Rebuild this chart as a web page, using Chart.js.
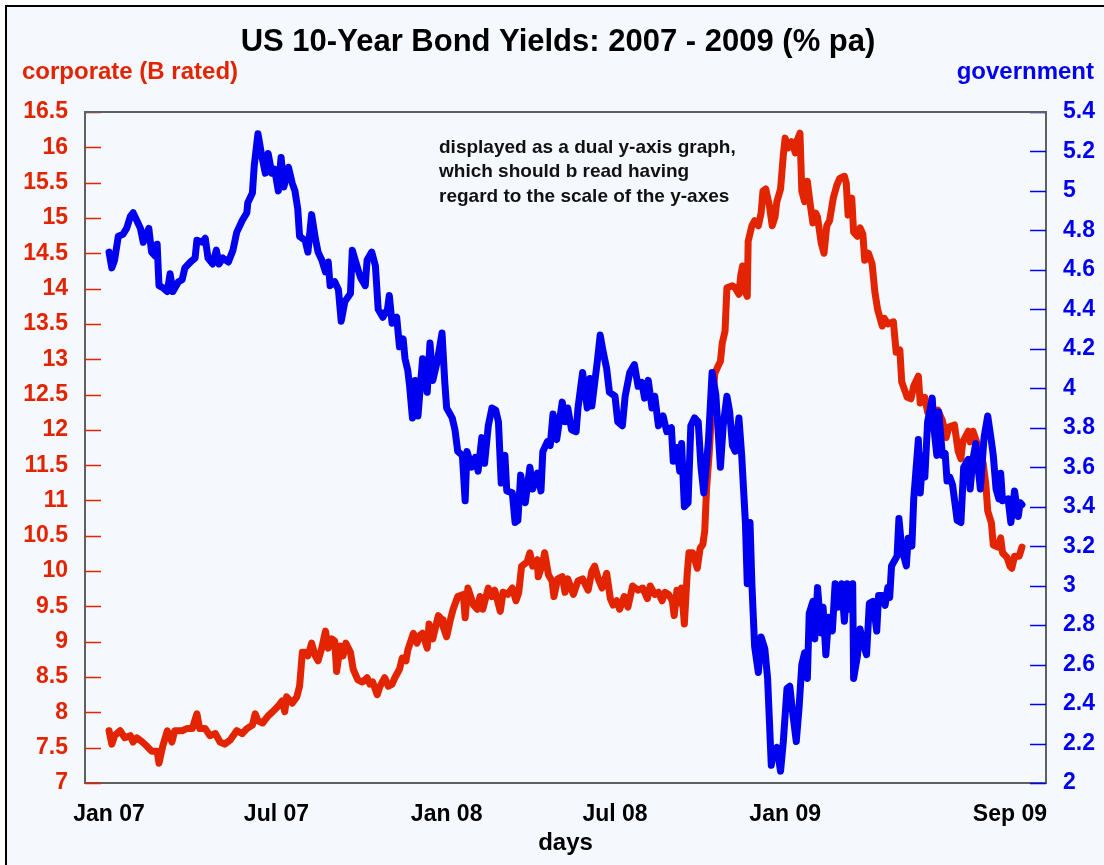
<!DOCTYPE html>
<html lang="en">
<head>
<meta charset="UTF-8">
<title>US 10-Year Bond Yields: 2007 - 2009</title>
<script src="https://cdn.jsdelivr.net/npm/chart.js"></script>
<style>
    html, body { margin: 0; padding: 0; background: #fff; }
    .chart-box { width: 1104px; height: 865px; }
</style>
</head>
<body>
<div class="chart-box"><canvas id="bondChart"></canvas></div>
<script>
// x values are days counted from 1 Jan 2007
const tickDays = [0, 181, 365, 547, 731, 974];
const tickLabels = ['Jan 07', 'Jul 07', 'Jan 08', 'Jul 08', 'Jan 09', 'Sep 09'];

// corporate (B rated), left axis
const corpDays = [
    0, 3, 6, 12, 17, 23, 26, 30, 36, 41,
    46, 52, 54, 58, 63, 68, 71, 79, 84, 90,
    95, 98, 104, 109, 115, 120, 125, 131, 138, 144,
    149, 155, 158, 161, 166, 172, 177, 183, 187, 190,
    192, 198, 203, 206, 209, 212, 215, 219, 223, 226,
    230, 234, 237, 241, 244, 246, 250, 253, 256, 261,
    264, 269, 274, 279, 282, 285, 290, 293, 298, 302,
    306, 309, 314, 317, 321, 323, 329, 333, 336, 339,
    344, 346, 350, 356, 360, 361, 365, 369, 372, 377,
    383, 385, 388, 394, 398, 401, 404, 410, 414, 417,
    423, 426, 431, 436, 440, 443, 446, 452, 455, 458,
    463, 464, 468, 471, 475, 479, 481, 485, 490, 493,
    496, 502, 507, 512, 518, 522, 525, 529, 533, 538,
    542, 545, 549, 552, 557, 561, 566, 572, 577, 582,
    585, 590, 594, 598, 601, 605, 609, 611, 614, 617,
    619, 622, 625, 627, 631, 636, 639, 642, 644, 646,
    649, 652, 655, 658, 661, 663, 666, 668, 674, 677,
    681, 683, 685, 688, 690, 691, 695, 698, 702, 705,
    707, 710, 714, 717, 720, 722, 726, 729, 731, 734,
    738, 742, 744, 747, 749, 752, 755, 758, 761, 764,
    766, 770, 773, 776, 779, 783, 787, 790, 795, 797,
    799, 803, 805, 809, 812, 815, 817, 821, 825, 828,
    831, 836, 838, 842, 848, 851, 855, 857, 863, 867,
    870, 875, 877, 882, 885, 891, 896, 901, 905, 908,
    914, 918, 921, 923, 929, 931, 934, 938, 942, 945,
    948, 950, 954, 956, 961, 964, 966, 971, 974, 976,
    979, 984, 987
];
const corpYield = [
    7.74, 7.55, 7.67, 7.74, 7.64, 7.67, 7.58, 7.64, 7.58, 7.52,
    7.45, 7.45, 7.28, 7.52, 7.74, 7.58, 7.74, 7.74, 7.77, 7.77,
    7.98, 7.77, 7.77, 7.67, 7.70, 7.58, 7.55, 7.61, 7.74, 7.70,
    7.77, 7.82, 7.98, 7.88, 7.85, 7.95, 8.01, 8.09, 8.16, 8.01,
    8.22, 8.13, 8.22, 8.37, 8.85, 8.85, 8.80, 8.98, 8.80, 8.73,
    8.91, 9.15, 8.91, 9.04, 9.01, 8.58, 8.94, 8.80, 8.98, 8.85,
    8.61, 8.46, 8.43, 8.49, 8.40, 8.43, 8.25, 8.37, 8.49, 8.37,
    8.40, 8.49, 8.61, 8.77, 8.73, 8.88, 9.12, 8.98, 9.09, 9.12,
    8.91, 9.25, 9.04, 9.37, 9.31, 9.22, 9.07, 9.31, 9.46, 9.64,
    9.67, 9.34, 9.76, 9.52, 9.46, 9.64, 9.46, 9.76, 9.64, 9.73,
    9.43, 9.70, 9.67, 9.76, 9.58, 9.70, 10.07, 10.13, 10.26, 10.07,
    10.16, 9.92, 10.07, 10.26, 9.95, 9.86, 9.64, 9.89, 9.92, 9.70,
    9.89, 9.67, 9.86, 9.89, 9.73, 10.00, 10.07, 9.89, 9.76, 9.97,
    9.61, 9.52, 9.58, 9.46, 9.64, 9.49, 9.79, 9.73, 9.76, 9.61,
    9.79, 9.67, 9.70, 9.58, 9.70, 9.67, 9.58, 9.37, 9.73, 9.55,
    9.76, 9.25, 9.95, 10.26, 10.26, 10.04, 10.32, 10.38, 10.56, 11.16,
    11.70, 12.38, 12.80, 12.89, 12.97, 13.23, 13.40, 14.01, 14.04, 14.01,
    13.92, 14.19, 14.32, 13.95, 13.89, 14.67, 14.89, 14.96, 14.89, 15.07,
    15.38, 15.41, 15.17, 14.89, 15.01, 15.23, 15.41, 15.89, 16.13, 15.99,
    16.08, 15.92, 16.10, 16.20, 15.38, 15.23, 15.52, 15.20, 14.93, 15.07,
    15.01, 14.64, 14.50, 14.89, 14.96, 15.28, 15.47, 15.56, 15.59, 15.50,
    15.04, 15.28, 14.80, 14.74, 14.86, 14.77, 14.40, 14.50, 14.35, 13.95,
    13.70, 13.47, 13.58, 13.50, 13.53, 13.10, 13.13, 12.68, 12.46, 12.44,
    12.62, 12.76, 12.38, 12.46, 12.25, 12.13, 12.28, 12.13, 11.89, 12.04,
    12.07, 11.70, 11.59, 11.83, 11.98, 11.83, 11.98, 11.83, 11.53, 11.53,
    11.22, 10.85, 10.68, 10.37, 10.34, 10.47, 10.26, 10.19, 10.07, 10.04,
    10.21, 10.21, 10.34
];

// government, right axis
const govDays = [
    0, 3, 6, 10, 15, 19, 23, 26, 30, 34,
    37, 41, 43, 46, 50, 52, 54, 58, 63, 66,
    69, 75, 79, 82, 88, 93, 95, 101, 104, 107,
    112, 116, 119, 123, 129, 134, 138, 144, 149, 150,
    155, 157, 161, 165, 169, 172, 176, 179, 183, 186,
    189, 194, 198, 201, 204, 206, 212, 215, 219, 223,
    226, 230, 234, 237, 239, 244, 248, 251, 255, 261,
    263, 268, 272, 277, 279, 284, 288, 291, 296, 301,
    303, 306, 311, 314, 318, 320, 323, 325, 328, 331,
    334, 339, 344, 347, 350, 355, 360, 363, 365, 371,
    374, 377, 382, 385, 387, 392, 396, 399, 403, 406,
    410, 414, 418, 421, 424, 428, 430, 436, 439, 442,
    445, 450, 455, 458, 463, 467, 469, 474, 477, 480,
    484, 490, 493, 496, 500, 505, 507, 512, 517, 520,
    522, 528, 531, 534, 538, 541, 547, 550, 555, 558,
    563, 568, 572, 576, 579, 583, 587, 590, 594, 599,
    603, 608, 610, 614, 617, 619, 622, 626, 629, 633,
    637, 640, 643, 648, 652, 656, 661, 664, 668, 671,
    674, 677, 681, 684, 688, 690, 693, 695, 698, 702,
    705, 709, 712, 716, 718, 722, 726, 729, 733, 736,
    739, 743, 746, 749, 752, 755, 757, 761, 763, 766,
    770, 772, 775, 778, 782, 785, 788, 792, 795, 798,
    801, 804, 805, 809, 812, 815, 819, 822, 826, 830,
    832, 836, 839, 842, 844, 846, 852, 854, 857, 862,
    864, 868, 870, 875, 877, 880, 882, 885, 890, 892,
    895, 897, 901, 904, 906, 909, 912, 917, 921, 924,
    929, 931, 934, 937, 942, 946, 950, 954, 956, 959,
    962, 964, 966, 972, 975, 979, 983, 985, 987
];
const govYield = [
    4.69, 4.61, 4.65, 4.77, 4.78, 4.81, 4.87, 4.89, 4.85, 4.81,
    4.74, 4.79, 4.81, 4.69, 4.67, 4.73, 4.52, 4.51, 4.49, 4.58,
    4.49, 4.54, 4.55, 4.61, 4.64, 4.66, 4.75, 4.74, 4.76, 4.66,
    4.63, 4.70, 4.63, 4.66, 4.64, 4.70, 4.79, 4.85, 4.89, 4.94,
    4.99, 5.13, 5.29, 5.18, 5.09, 5.19, 5.09, 5.11, 5.00, 5.17,
    5.02, 5.12, 5.04, 5.00, 4.91, 4.77, 4.75, 4.69, 4.88, 4.76,
    4.69, 4.65, 4.59, 4.64, 4.52, 4.54, 4.50, 4.34, 4.44, 4.48,
    4.70, 4.62, 4.56, 4.52, 4.65, 4.69, 4.62, 4.40, 4.36, 4.40,
    4.47, 4.33, 4.36, 4.21, 4.25, 4.15, 4.09, 4.01, 3.85, 4.04,
    3.86, 4.15, 3.98, 4.23, 4.04, 4.14, 4.28, 4.03, 3.90, 3.85,
    3.79, 3.68, 3.66, 3.43, 3.68, 3.60, 3.65, 3.58, 3.75, 3.62,
    3.81, 3.90, 3.89, 3.83, 3.52, 3.66, 3.48, 3.47, 3.32, 3.33,
    3.56, 3.42, 3.60, 3.49, 3.57, 3.48, 3.68, 3.73, 3.71, 3.87,
    3.74, 3.93, 3.83, 3.90, 3.79, 3.78, 3.90, 4.08, 3.90, 4.05,
    3.91, 4.14, 4.27, 4.19, 4.10, 3.98, 3.96, 3.83, 3.81, 3.96,
    4.08, 4.12, 4.01, 4.03, 3.95, 4.04, 3.90, 3.96, 3.81, 3.86,
    3.78, 3.80, 3.63, 3.70, 3.58, 3.72, 3.40, 3.42, 3.81, 3.85,
    3.83, 3.60, 3.47, 3.73, 4.08, 3.97, 3.60, 3.81, 3.96, 3.88,
    3.71, 3.68, 3.85, 3.66, 3.32, 3.01, 3.32, 3.01, 2.69, 2.56,
    2.74, 2.68, 2.53, 2.09, 2.16, 2.18, 2.06, 2.21, 2.48, 2.49,
    2.36, 2.21, 2.38, 2.60, 2.66, 2.53, 2.86, 2.92, 2.73, 2.99,
    2.76, 2.89, 2.65, 2.84, 2.77, 3.01, 2.89, 3.01, 2.82, 3.01,
    2.88, 3.01, 2.53, 2.64, 2.78, 2.71, 2.65, 2.91, 2.92, 2.77,
    2.95, 2.95, 2.90, 2.99, 2.94, 3.10, 3.15, 3.34, 3.19, 3.10,
    3.24, 3.20, 3.44, 3.74, 3.47, 3.66, 3.55, 3.83, 3.95, 3.79,
    3.66, 3.88, 3.66, 3.67, 3.53, 3.55, 3.51, 3.33, 3.32, 3.60,
    3.64, 3.49, 3.64, 3.72, 3.49, 3.75, 3.86, 3.73, 3.66, 3.49,
    3.44, 3.57, 3.43, 3.44, 3.32, 3.48, 3.35, 3.42, 3.41
];

const RED = '#e22400';
const BLUE = '#0000f0';
const AXIS = '#606060';
const BG = '#f5f8fd';
const FONT = "'Liberation Sans', Arial, sans-serif";

Chart.defaults.font.family = FONT;

// background frame, inside tick marks, titles and the note
const decorations = {
    id: 'decorations',
    beforeDraw(chart) {
        const ctx = chart.ctx;
        ctx.save();
        ctx.fillStyle = '#ffffff';
        ctx.fillRect(0, 0, chart.width, chart.height);
        ctx.fillStyle = BG;
        ctx.fillRect(6, 6, chart.width - 6, chart.height - 6);
        ctx.strokeStyle = '#000000';
        ctx.lineWidth = 2;
        ctx.beginPath();
        ctx.moveTo(6, chart.height);
        ctx.lineTo(6, 6);
        ctx.lineTo(chart.width, 6);
        ctx.stroke();
        ctx.restore();
    },
    beforeDatasetsDraw(chart) {
        const ctx = chart.ctx;
        const area = chart.chartArea;
        const yL = chart.scales.yL;
        const yR = chart.scales.yR;
        ctx.save();
        ctx.lineWidth = 1.5;
        ctx.strokeStyle = RED;
        yL.ticks.forEach(t => {
            const y = Math.round(yL.getPixelForValue(t.value)) + 0.5;
            ctx.beginPath();
            ctx.moveTo(area.left, y);
            ctx.lineTo(area.left + 16, y);
            ctx.stroke();
        });
        ctx.strokeStyle = BLUE;
        yR.ticks.forEach(t => {
            const y = Math.round(yR.getPixelForValue(t.value)) + 0.5;
            ctx.beginPath();
            ctx.moveTo(area.right - 16, y);
            ctx.lineTo(area.right, y);
            ctx.stroke();
        });
        // top edge of the plot
        ctx.strokeStyle = AXIS;
        ctx.lineWidth = 2;
        ctx.beginPath();
        ctx.moveTo(area.left, area.top);
        ctx.lineTo(area.right, area.top);
        ctx.stroke();
        ctx.restore();
    },
    afterDraw(chart) {
        const ctx = chart.ctx;
        ctx.save();
        ctx.textBaseline = 'middle';

        ctx.fillStyle = '#000000';
        ctx.textAlign = 'center';
        ctx.font = 'bold 31px ' + FONT;
        ctx.fillText('US 10-Year Bond Yields: 2007 - 2009 (% pa)', 558, 42);

        ctx.font = 'bold 24px ' + FONT;
        ctx.textAlign = 'left';
        ctx.fillStyle = RED;
        ctx.fillText('corporate (B rated)', 22, 72);
        ctx.textAlign = 'right';
        ctx.fillStyle = BLUE;
        ctx.fillText('government', 1094, 72);

        ctx.font = 'bold 19px ' + FONT;
        ctx.textAlign = 'left';
        ctx.fillStyle = '#111111';
        ctx.fillText('displayed as a dual y-axis graph,', 439, 148);
        ctx.fillText('which should b read having', 439, 172);
        ctx.fillText('regard to the scale of the y-axes', 439, 197);
        ctx.restore();
    }
};

const ctx = document.getElementById('bondChart').getContext('2d');
new Chart(ctx, {
    type: 'line',
    data: {
        datasets: [
            {
                label: 'government',
                data: govDays.map((d, i) => ({ x: d, y: govYield[i] })),
                yAxisID: 'yR',
                borderColor: BLUE,
                borderWidth: 7,
                pointRadius: 0,
                tension: 0,
                borderJoinStyle: 'round',
                borderCapStyle: 'round'
            },
            {
                label: 'corporate (B rated)',
                data: corpDays.map((d, i) => ({ x: d, y: corpYield[i] })),
                yAxisID: 'yL',
                borderColor: RED,
                borderWidth: 7,
                pointRadius: 0,
                tension: 0,
                borderJoinStyle: 'round',
                borderCapStyle: 'round'
            }
        ]
    },
    options: {
        responsive: true,
        maintainAspectRatio: false,
        animation: false,
        devicePixelRatio: 1,
        layout: { padding: { top: 112, left: 0, right: 0, bottom: 0 } },
        plugins: {
            legend: { display: false },
            tooltip: { enabled: false }
        },
        scales: {
            x: {
                type: 'linear',
                min: -26,
                max: 1013,
                afterFit: scale => { scale.height = 82; },
                afterBuildTicks: scale => {
                    scale.ticks = tickDays.map(v => ({ value: v }));
                },
                grid: { display: true, drawOnChartArea: false, drawTicks: false },
                border: { display: true, color: AXIS, width: 2 },
                ticks: {
                    autoSkip: false,
                    maxRotation: 0,
                    padding: 18,
                    color: '#000000',
                    font: { size: 23, weight: 'bold' },
                    callback: (v, i) => tickLabels[i]
                },
                title: {
                    display: true,
                    text: 'days',
                    color: '#000000',
                    font: { size: 24, weight: 'bold' },
                    padding: { top: 0, bottom: 7 }
                }
            },
            yL: {
                type: 'linear',
                position: 'left',
                min: 7,
                max: 16.5,
                afterFit: scale => { scale.width = 85; },
                grid: { display: true, drawOnChartArea: false, drawTicks: false },
                border: { display: true, color: AXIS, width: 2 },
                ticks: {
                    stepSize: 0.5,
                    padding: 17,
                    color: RED,
                    font: { size: 23, weight: 'bold' },
                    callback: v => String(+v.toFixed(1))
                }
            },
            yR: {
                type: 'linear',
                position: 'right',
                min: 2,
                max: 5.4,
                afterFit: scale => { scale.width = 58; },
                grid: { display: true, drawOnChartArea: false, drawTicks: false },
                border: { display: true, color: AXIS, width: 2 },
                ticks: {
                    stepSize: 0.2,
                    padding: 17,
                    color: BLUE,
                    font: { size: 23, weight: 'bold' },
                    callback: v => String(+v.toFixed(1))
                }
            }
        }
    },
    plugins: [decorations]
});
</script>
</body>
</html>
